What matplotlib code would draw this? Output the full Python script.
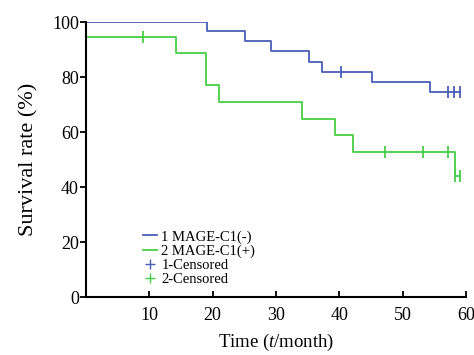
import matplotlib
matplotlib.use("Agg")
import matplotlib.pyplot as plt
from matplotlib.lines import Line2D

# Group 1: MAGE-C1(-)
g1_times = [0, 19.2, 25.2, 29.2, 35.2, 37.3, 45.2, 54.3, 59.1]
g1_surv = [100, 96.6, 93.1, 89.6, 85.5, 81.9, 78.2, 74.6, 74.6]
g1_cens_t = [40.3, 57.2, 58.1, 59.0]
g1_cens_s = [81.9, 74.6, 74.6, 74.6]

# Group 2: MAGE-C1(+)
g2_times = [0, 14.2, 19.0, 21.1, 34.2, 39.3, 42.2, 58.2, 59.1]
g2_surv = [94.7, 88.8, 77.0, 71.0, 64.8, 58.8, 52.9, 44.1, 44.1]
g2_cens_t = [9.1, 47.2, 53.2, 57.2, 58.2, 59.1]
g2_cens_s = [94.7, 52.9, 52.9, 52.9, 44.1, 44.1]

x_ticks = [10, 20, 30, 40, 50, 60]
y_ticks = [0, 20, 40, 60, 80, 100]
labels = ["1 MAGE-C1(-)", "2 MAGE-C1(+)", "1-Censored", "2-Censored"]

blue = "#4a5fb8"
green = "#47cf47"

plt.rcParams['font.family'] = ['Liberation Serif', 'DejaVu Serif']
plt.rcParams['mathtext.fontset'] = 'custom'
plt.rcParams['mathtext.it'] = 'Liberation Serif:italic'
plt.rcParams['mathtext.rm'] = 'Liberation Serif'
fig = plt.figure(figsize=(4.74, 3.55), dpi=100)
ax = fig.add_axes([0.181, 0.163, 0.802, 0.775])

ax.step(g1_times, g1_surv, where='post', color=blue, lw=1.3)
ax.step(g2_times, g2_surv, where='post', color=green, lw=1.3)
ax.plot(g1_cens_t, g1_cens_s, ls='none', marker='|', ms=8, mew=1.3, color=blue)
ax.plot(g2_cens_t, g2_cens_s, ls='none', marker='|', ms=8, mew=1.3, color=green)

ax.set_xlim(0, 60)
ax.set_ylim(0, 100)
ax.set_xticks(x_ticks)
ax.set_yticks(y_ticks)
ax.tick_params(axis='x', direction='in', length=4, width=1.3, labelsize=13, pad=7)
ax.tick_params(axis='y', direction='out', length=4, width=1.3, labelsize=13, pad=1)
for s in ['top', 'right']:
    ax.spines[s].set_visible(False)
for s in ['left', 'bottom']:
    ax.spines[s].set_linewidth(1.5)
ax.set_xlabel("Time ($\\mathit{t}$/month)", fontsize=13.5, labelpad=6)
ax.set_ylabel("Survival rate (%)", fontsize=16, labelpad=10)

handles = [
    Line2D([], [], color=blue, lw=1.3, drawstyle='steps'),
    Line2D([], [], color=green, lw=1.3, drawstyle='steps'),
    Line2D([], [], color=blue, ls='none', marker='+', ms=7),
    Line2D([], [], color=green, ls='none', marker='+', ms=7),
]
ax.legend(handles, labels, loc='upper left', bbox_to_anchor=(0.13, 0.27),
          frameon=False, fontsize=10.5, handlelength=1.0, handletextpad=0.3,
          labelspacing=0.05, borderpad=0)

fig.savefig("out.png", dpi=100)
